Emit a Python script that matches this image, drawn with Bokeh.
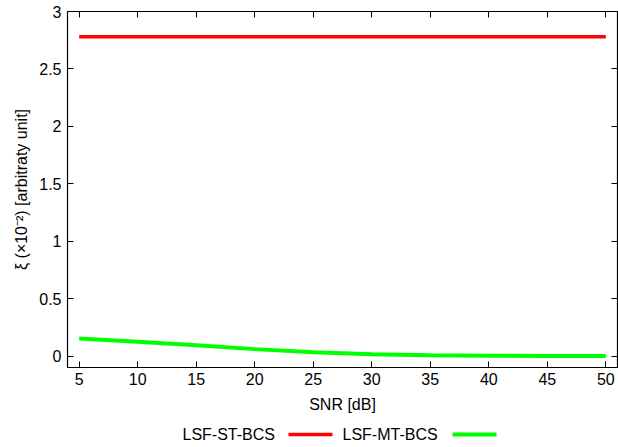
from bokeh.plotting import figure
from bokeh.layouts import column
from bokeh.models import Range1d, LinearAxis, FixedTicker
from bokeh.core.properties import value
from bokeh.embed import file_html
from bokeh.resources import INLINE

# ---- data ----
snr = [5, 10, 15, 20, 25, 30, 35, 40, 45, 50]
st_bcs = [2.78, 2.78, 2.78, 2.78, 2.78, 2.78, 2.78, 2.78, 2.78, 2.78]
mt_bcs = [0.152, 0.125, 0.093, 0.060, 0.033, 0.016, 0.007, 0.003, 0.001, 0.0]
x_ticks = [5, 10, 15, 20, 25, 30, 35, 40, 45, 50]
y_ticks = [0, 0.5, 1, 1.5, 2, 2.5, 3]
y_tick_labels = ["0", "0.5", "1", "1.5", "2", "2.5", "3"]
series_names = ["LSF-ST-BCS", "LSF-MT-BCS"]
series_colors = ["#ff0000", "#00ff00"]

FONT = "Liberation Sans"

p = figure(width=618, height=418, output_backend="svg", toolbar_location=None,
           x_range=Range1d(4, 51), y_range=Range1d(-0.1, 3.0),
           min_border_left=67, min_border_right=1, min_border_top=11,
           min_border_bottom=51, x_axis_location=None, y_axis_location=None)
p.grid.visible = False
p.outline_line_color = "black"
p.outline_line_width = 1.2

p.line(snr, st_bcs, line_color=series_colors[0], line_width=3.5)
p.line(snr, mt_bcs, line_color=series_colors[1], line_width=4)

xt = FixedTicker(ticks=x_ticks, minor_ticks=[])
yt = FixedTicker(ticks=y_ticks, minor_ticks=[])

bottom = LinearAxis(ticker=xt, axis_label="SNR [dB]")
left = LinearAxis(ticker=yt, axis_label="ξ (×10⁻²) [arbitraty unit]",
                  major_label_overrides={t: l for t, l in zip(y_ticks, y_tick_labels)})
top = LinearAxis(ticker=xt, major_label_overrides={t: "" for t in x_ticks})
right = LinearAxis(ticker=yt, major_label_overrides={t: "" for t in y_ticks})

for ax in (bottom, left, top, right):
    ax.major_tick_in = 6
    ax.major_tick_out = 0
    ax.minor_tick_in = 0
    ax.minor_tick_out = 0
    ax.axis_line_color = "black"
    ax.major_tick_line_color = "black"
    ax.axis_label_text_font = FONT
    ax.axis_label_text_font_style = "normal"
    ax.axis_label_text_font_size = "16px"
    ax.axis_label_text_color = "black"
    ax.major_label_text_font = FONT
    ax.major_label_text_font_size = "16px"
    ax.major_label_text_color = "black"
for ax in (top, right):
    ax.major_label_standoff = 0
    ax.axis_label_standoff = 0
    ax.major_label_text_font_size = "1px"

bottom.major_label_standoff = 5
bottom.axis_label_standoff = 8
left.major_label_standoff = 6
left.axis_label_standoff = 6

p.add_layout(bottom, "below")
p.add_layout(left, "left")
p.add_layout(top, "above")
p.add_layout(right, "right")

# ---- legend strip (text before sample line, gnuplot style) ----
# x range chosen so that legend coordinates equal page pixels (frame 67..617)
lg = figure(width=618, height=29, output_backend="svg", toolbar_location=None,
            x_range=Range1d(67, 617), y_range=Range1d(0, 29),
            x_axis_type=None, y_axis_type=None, min_border=0)
lg.grid.visible = False
lg.outline_line_color = None
text_x = [182, 342]
line_x0 = [288, 452]
line_x1 = [332, 496]
ly = 13
lg.text(x=text_x, y=[ly, ly], text=series_names, text_font=value(FONT),
        text_font_size="16px", text_baseline="middle", text_align="left",
        text_color="black")
lg.segment(x0=line_x0, y0=[ly, ly], x1=line_x1, y1=[ly, ly],
           line_color=series_colors, line_width=[3.5, 4])

layout = column(p, lg, spacing=0)
open("out.html", "w").write(file_html(layout, INLINE))
